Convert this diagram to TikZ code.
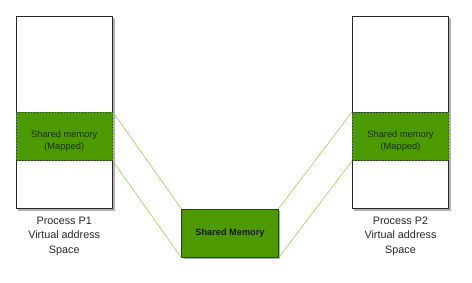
\documentclass[tikz,border=0pt]{standalone}
\usepackage{fontspec}
\setmainfont{Liberation Sans}
\usetikzlibrary{shadows}
\definecolor{smfill}{HTML}{4D9900}
\definecolor{smdraw}{HTML}{2D6600}
\definecolor{linkc}{HTML}{8CCB4A}
\definecolor{mtext}{HTML}{1A3300}
\begin{document}
\begin{tikzpicture}[x=1pt,y=-1pt,
  membox/.style={draw=black!85,fill=white,line width=0.7pt,inner sep=0pt,
    minimum width=96.5pt,minimum height=192.5pt,
    drop shadow={shadow xshift=2pt,shadow yshift=-2pt,fill=black!60,opacity=0.5}},
  mapped/.style={draw=black!80,dash pattern=on 1.5pt off 1.5pt,fill=smfill,line width=0.6pt,
    minimum width=96.5pt,minimum height=48.4pt,inner sep=0pt},
  mtxt/.style={font=\fontsize{9.3}{12}\selectfont,text=mtext,align=center},
  shared/.style={draw=smdraw!70!black,fill=smfill,line width=0.8pt,font=\bfseries\fontsize{9.2}{11}\selectfont,
    text=black!90,minimum width=96.6pt,minimum height=48.3pt,inner sep=0pt,
    drop shadow={shadow xshift=2pt,shadow yshift=-2pt,fill=black!60,opacity=0.5}},
  captxt/.style={font=\fontsize{10.8}{14.6}\selectfont,align=center,text=black!85},
  link/.style={draw=linkc,line width=0.5pt}]
\useasboundingbox (0,0) rectangle (472,282);
% left process
\node[membox] (p1) at (64.25,112.25) {};
\node[mapped] (m1) at (64.25,136.5) {};
\node[mtxt] (t1) at (64.25,141) {Shared memory\\(Mapped)};
\node[captxt] (c1) at (64.25,236) {Process P1\\Virtual address\\Space};
% right process
\node[membox] (p2) at (400.5,112.25) {};
\node[mapped] (m2) at (400.5,136.5) {};
\node[mtxt] (t2) at (400.5,141) {Shared memory\\(Mapped)};
\node[captxt] (c2) at (400.5,236) {Process P2\\Virtual address\\Space};
% shared memory
\node[shared] (sm) at (230,233.15) {Shared Memory};
% links
\draw[link] (m1.north east) -- (sm.north west);
\draw[link] (m1.south east) -- (sm.south west);
\draw[link] (m2.north west) -- (sm.north east);
\draw[link] (m2.south west) -- (sm.south east);
\end{tikzpicture}
\end{document}
